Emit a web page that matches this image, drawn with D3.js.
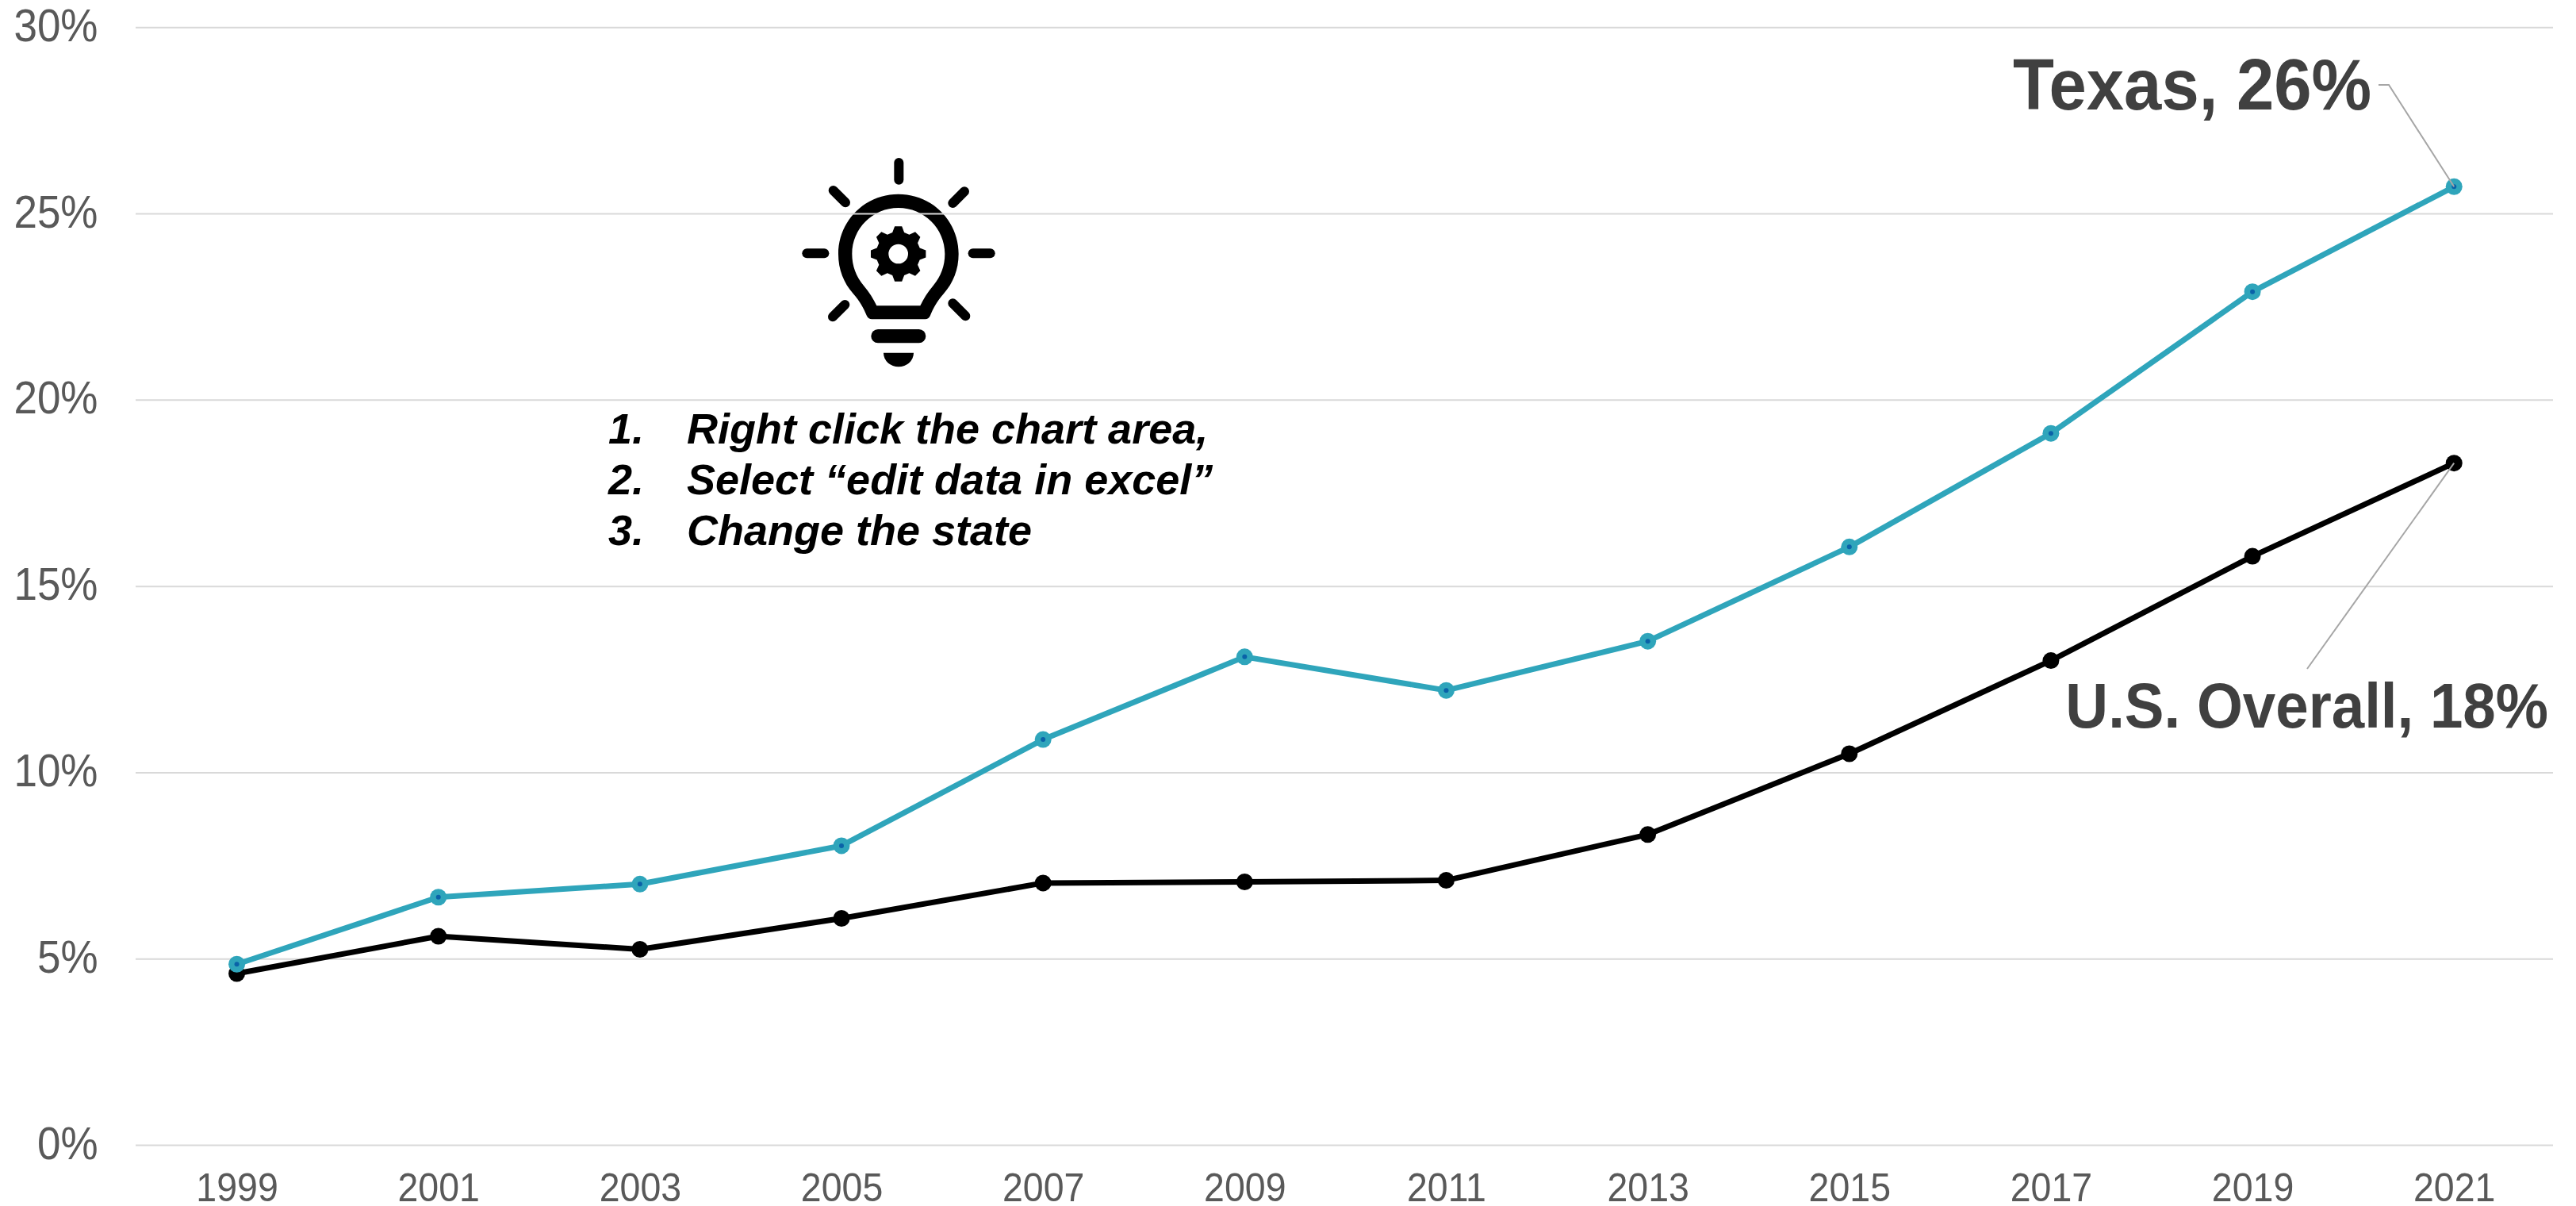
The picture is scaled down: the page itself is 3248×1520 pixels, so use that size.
<!DOCTYPE html>
<html><head><meta charset="utf-8">
<script src="https://cdn.jsdelivr.net/npm/d3@7"></script>
<style>
html,body{margin:0;padding:0;background:#fff}
svg{display:block}
text{font-family:"Liberation Sans",Arial,sans-serif}
</style></head><body>
<svg id="chart" width="3248" height="1520"></svg>
<script>
const years = ["1999","2001","2003","2005","2007","2009","2011","2013","2015","2017","2019","2021"];
const texasValues = [4.85,6.65,7.0,8.03,10.88,13.1,12.2,13.52,16.05,19.1,22.9,25.72];
const usValues = [4.6,5.6,5.25,6.08,7.03,7.06,7.1,8.33,10.5,13.0,15.8,18.3];
const yTicks = [0,5,10,15,20,25,30];
const instructionNumbers = ["1.","2.","3."];
const instructionLines = ["Right click the chart area,","Select “edit data in excel”","Change the state"];

const svg = d3.select("#chart");
const plotLeft = 171, plotRight = 3219, plotTop = 34.3, plotBottom = 1443;
const x = d3.scalePoint().domain(years).range([171.5, 3221.3]).padding(0.5);
const y = d3.scaleLinear().domain([0,30]).range([plotBottom, plotTop]);
const stretch = 1.07;

// icon (below gridlines)
const icon = svg.append("g").attr("transform","translate(960,170) scale(0.33333)");
const rays = [[520,105,520,170],[272,210,318,256],[768,214,724,258],[172,448,238,448],[800,448,866,448],[270,688,316,642],[772,685,724,637]];
icon.selectAll("line").data(rays).join("line")
  .attr("x1",d=>d[0]).attr("y1",d=>d[1]).attr("x2",d=>d[2]).attr("y2",d=>d[3])
  .attr("stroke","#000").attr("stroke-width",36).attr("stroke-linecap","round");
icon.append("path").attr("fill","#000").attr("fill-rule","evenodd").attr("d",
 "M518 224C645 224 746 325 746 450C746 510 725 560 690 600C665 628 650 655 638 685Q632 697 620 697L418 697Q405 697 399 685C387 655 372 628 347 600C312 560 291 510 291 450C291 325 392 224 518 224Z"+
 "M518 276C422 276 343 354 343 450C343 495 358 535 387 570C408 595 424 620 436 646L601 646C613 620 629 595 650 570C679 535 694 495 694 450C694 354 615 276 518 276Z");
let gear = "";
d3.range(8).forEach(k=>{
  const a = k*Math.PI/4 - Math.PI/2, p = (r,da)=>[518+r*Math.cos(a+da),450+r*Math.sin(a+da)].map(v=>v.toFixed(1)).join(" ");
  gear += (k?"L":"M")+p(84,-0.27)+"L"+p(105,-0.13)+"L"+p(105,0.13)+"L"+p(84,0.27);
});
gear += "ZM555 450A37 37 0 1 0 481 450A37 37 0 1 0 555 450Z";
icon.append("path").attr("fill","#000").attr("fill-rule","evenodd").attr("d",gear);
icon.append("rect").attr("x",415).attr("y",735).attr("width",207).attr("height",52).attr("rx",26).attr("fill","#000");
icon.append("path").attr("fill","#000").attr("d","M462 824L576 824A57 53 0 0 1 462 824Z");

// y axis + gridlines
const yAxis = svg.append("g").attr("transform",`translate(${plotLeft},0)`)
  .call(d3.axisLeft(y).tickValues(yTicks).tickFormat(d=>d+"%").tickSize(-(plotRight-plotLeft)).tickPadding(47.5));
yAxis.select(".domain").remove();
yAxis.selectAll("line").attr("stroke","#d9d9d9").attr("stroke-width",2);
yAxis.selectAll("text").attr("font-size",53).attr("fill","#595959")
  .attr("font-family",'"Liberation Sans",Arial,sans-serif').attr("dy",null)
  .attr("y",17/stretch).attr("transform",`scale(1,${stretch})`);

// x axis
const xAxis = svg.append("g").attr("transform",`translate(0,${plotBottom})`)
  .call(d3.axisBottom(x).tickSize(0));
xAxis.select(".domain").remove();
xAxis.selectAll("text").attr("font-size",46.5).attr("fill","#595959")
  .attr("font-family",'"Liberation Sans",Arial,sans-serif').attr("dy",null)
  .attr("y",71/stretch).attr("transform",`scale(1,${stretch})`);

// series
const line = d3.line().x((d,i)=>x(years[i])).y(d=>y(d));
function series(vals,color){
  const g = svg.append("g");
  g.append("path").attr("d",line(vals)).attr("fill","none").attr("stroke",color).attr("stroke-width",7).attr("stroke-linejoin","round");
  g.selectAll("circle").data(vals).join("circle")
    .attr("cx",(d,i)=>x(years[i])).attr("cy",d=>y(d)).attr("r",10.5).attr("fill",color);
  return g;
}
series(usValues,"#000000");
const tg = series(texasValues,"#2fa5bb");
tg.selectAll("circle.c").data(texasValues).join("circle").attr("class","c")
  .attr("cx",(d,i)=>x(years[i])).attr("cy",d=>y(d)).attr("r",3).attr("fill","#0a62a8");

// leader lines
const last = years.length-1;
svg.append("path").attr("fill","none").attr("stroke","#a6a6a6").attr("stroke-width",2)
  .attr("d",`M2999 107L3012 107L${x(years[last])} ${y(texasValues[last])}`);
svg.append("path").attr("fill","none").attr("stroke","#a6a6a6").attr("stroke-width",2)
  .attr("d",`M2909 843L${x(years[last])} ${y(usValues[last])}`);

// labels
svg.append("text").attr("text-anchor","end").attr("transform",`translate(2990,138) scale(1,${stretch})`)
  .attr("font-size",85).attr("font-weight","bold").attr("fill","#404040").text("Texas, 26%");
svg.append("text").attr("text-anchor","end").attr("transform",`translate(3213,917) scale(1,${stretch})`)
  .attr("font-size",74.5).attr("font-weight","bold").attr("fill","#404040").text("U.S. Overall, 18%");

// instructions
const ins = svg.append("g").attr("font-size",54).attr("font-weight","bold").attr("font-style","italic").attr("fill","#000");
ins.selectAll("text.n").data(instructionNumbers).join("text").attr("class","n")
  .attr("x",812).attr("text-anchor","end").attr("y",(d,i)=>559+i*63.8).text(d=>d);
ins.selectAll("text.l").data(instructionLines).join("text").attr("class","l")
  .attr("x",866).attr("y",(d,i)=>559+i*63.8).text(d=>d);
</script>
</body></html>
